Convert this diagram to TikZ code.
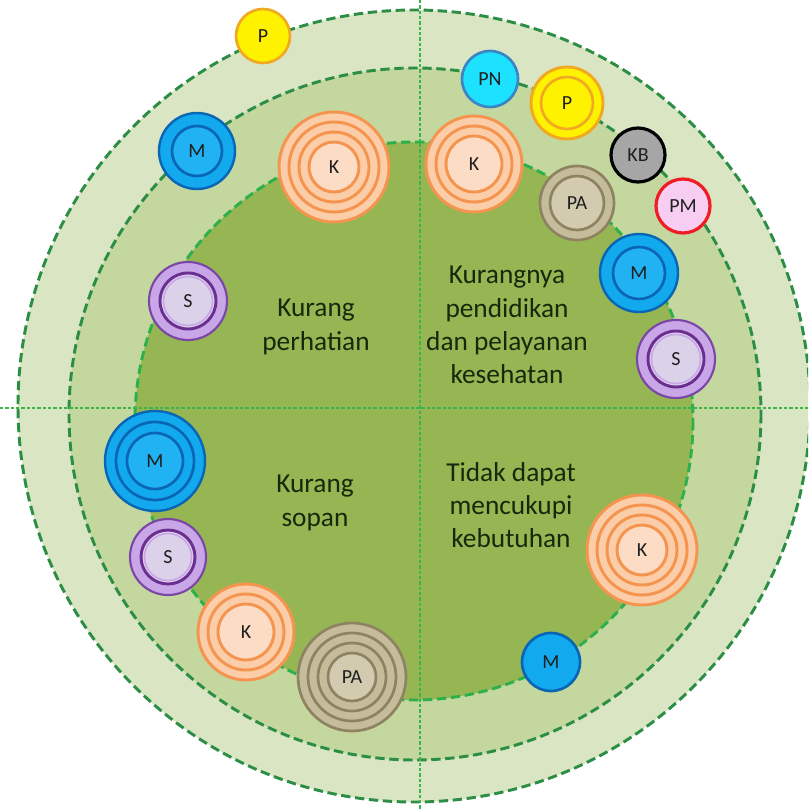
\documentclass[tikz,border=0pt]{standalone}
\usepackage{fontspec}
\setmainfont{Carlito}
\definecolor{outerfill}{HTML}{DAE5C3}
\definecolor{midfill}{HTML}{C4D79E}
\definecolor{innerfill}{HTML}{96B654}
\definecolor{dashdark}{HTML}{2C8E45}
\definecolor{dashbright}{HTML}{2DB04C}
\definecolor{crossgreen}{HTML}{3BB54A}
\definecolor{maintxt}{HTML}{18280A}
\definecolor{labtxt}{HTML}{1E1E1E}
\definecolor{mblue}{HTML}{12A9EE}
\definecolor{mbluein}{HTML}{20B2F2}
\definecolor{mring}{HTML}{0A66B4}
\definecolor{pncyan}{HTML}{1DE2FF}
\definecolor{pnborder}{HTML}{3C85C4}
\definecolor{pyellow}{HTML}{FFF200}
\definecolor{pborder}{HTML}{F2A922}
\definecolor{kbgrey}{HTML}{A6A6A6}
\definecolor{pmpink}{HTML}{F8CDF2}
\definecolor{pmred}{HTML}{EE1C24}
\definecolor{pafill}{HTML}{C5BC9C}
\definecolor{pain}{HTML}{D3CBAF}
\definecolor{paring}{HTML}{8E8360}
\definecolor{kfill}{HTML}{FBCDA8}
\definecolor{kin}{HTML}{FCDCC4}
\definecolor{kring}{HTML}{F5944F}
\definecolor{sfill}{HTML}{C8A6E8}
\definecolor{sin}{HTML}{DBD1E8}
\definecolor{sring}{HTML}{6B2F92}
\definecolor{sborder}{HTML}{7A47A6}
\tikzset{
  bigdash/.style={draw=dashdark, line width=2.2pt, dash pattern=on 7pt off 3.5pt},
  innerdash/.style={draw=dashbright, line width=2.2pt, dash pattern=on 7pt off 3.5pt},
  crossline/.style={draw=crossgreen, line width=1pt, dash pattern=on 2.5pt off 1.5pt},
  lab/.style={circle, inner sep=0pt, text=labtxt, font=\fontsize{15}{17}\selectfont},
  maintext/.style={align=center, text=maintxt, font=\fontsize{20.5}{25}\selectfont},
  kr/.style={draw=kring, line width=2.2pt},
  par/.style={draw=paring, line width=2pt},
  mr/.style={draw=mring, line width=2pt},
  sr/.style={draw=sring, line width=2.2pt},
}
\begin{document}
\begin{tikzpicture}[x=0.75pt,y=0.75pt,yscale=-1]
\useasboundingbox (0,0) rectangle (808,809);
\begin{scope}
\clip (0,0) rectangle (808,809);
% zones
\fill[outerfill] (414,406) circle[radius=396];
\fill[midfill] (415,414) circle[radius=346];
\fill[innerfill] (414,421) circle[radius=279];
\draw[bigdash] (414,406) circle[radius=396];
\draw[bigdash] (415,414) circle[radius=346];
\draw[innerdash] (414,421) circle[radius=279];
% cross lines
\coordinate (vt) at (420,0);
\coordinate (vb) at (420,809);
\coordinate (hl) at (0,408);
\coordinate (hr) at (808,408);
\draw[crossline] (vt) -- (vb);
\draw[crossline] (hl) -- (hr);
\end{scope}

% ===== top-left quadrant =====
% P single
\filldraw[fill=pyellow, draw=pborder, line width=2pt] (263,36) circle[radius=27];
\node[lab, minimum size=40pt] (tlP) at (263,36) {P};
% M double
\filldraw[fill=mblue, draw=mring, line width=1.8pt] (197,151) circle[radius=38];
\fill[mbluein] (197,151) circle[radius=25];
\draw[mr] (197,151) circle[radius=25];
\node[lab, minimum size=56pt] (tlM) at (197,151) {M};
% K four rings
\fill[kfill] (334,167) circle[radius=56];
\foreach \r in {55,45,35} \draw[kr] (334,167) circle[radius=\r];
\fill[kin] (334,167) circle[radius=25];
\draw[kr] (334,167) circle[radius=25];
\node[lab, minimum size=82pt] (tlK) at (334,167) {K};
% S double
\filldraw[fill=sfill, draw=sborder, line width=1.6pt] (188,301) circle[radius=39];
\fill[sin] (188,301) circle[radius=27];
\draw[sr] (188,301) circle[radius=28];
\draw[draw=sfill, line width=1.2pt] (188,301) circle[radius=24.5];
\node[lab, minimum size=58pt] (tlS) at (188,301) {S};
\node[maintext] (tltext) at (316,327) {Kurang\\perhatian};

% ===== top-right quadrant =====
% PN
\filldraw[fill=pncyan, draw=pnborder, line width=2pt] (490,79) circle[radius=28];
\node[lab, minimum size=42pt] (trPN) at (490,79) {PN};
% P double
\filldraw[fill=pyellow, draw=pborder, line width=2.2pt] (567,103) circle[radius=36];
\draw[draw=pborder, line width=2pt] (567,103) circle[radius=26];
\node[lab, minimum size=54pt] (trP) at (567,103) {P};
% KB
\filldraw[fill=kbgrey, draw=black, line width=2.4pt] (638,155) circle[radius=27];
\node[lab, minimum size=40pt] (trKB) at (638,155) {KB};
% PM
\filldraw[fill=pmpink, draw=pmred, line width=2.4pt] (683,206) circle[radius=27];
\node[lab, minimum size=40pt] (trPM) at (683,206) {PM};
% K three rings
\fill[kfill] (474,164) circle[radius=49];
\foreach \r in {48,38} \draw[kr] (474,164) circle[radius=\r];
\fill[kin] (474,164) circle[radius=28];
\draw[kr] (474,164) circle[radius=28];
\node[lab, minimum size=72pt] (trK) at (474,164) {K};
% PA double
\fill[pafill] (577,203) circle[radius=38];
\draw[par] (577,203) circle[radius=37];
\fill[pain] (577,203) circle[radius=27];
\draw[par] (577,203) circle[radius=27];
\node[lab, minimum size=56pt] (trPA) at (577,203) {PA};
% M double
\filldraw[fill=mblue, draw=mring, line width=1.8pt] (639,273) circle[radius=39];
\fill[mbluein] (639,273) circle[radius=26];
\draw[mr] (639,273) circle[radius=26];
\node[lab, minimum size=58pt] (trM) at (639,273) {M};
% S double
\filldraw[fill=sfill, draw=sborder, line width=1.6pt] (676,359) circle[radius=39];
\fill[sin] (676,359) circle[radius=27];
\draw[sr] (676,359) circle[radius=28];
\draw[draw=sfill, line width=1.2pt] (676,359) circle[radius=24.5];
\node[lab, minimum size=58pt] (trS) at (676,359) {S};
\node[maintext] (trtext) at (507,325) {Kurangnya\\pendidikan\\dan pelayanan\\kesehatan};

% ===== bottom-left quadrant =====
% M three rings
\filldraw[fill=mblue, draw=mring, line width=1.8pt] (155,461) circle[radius=50];
\draw[mr] (155,461) circle[radius=39];
\fill[mbluein] (155,461) circle[radius=28];
\draw[mr] (155,461) circle[radius=28];
\node[lab, minimum size=74pt] (blM) at (155,461) {M};
% S double
\filldraw[fill=sfill, draw=sborder, line width=1.6pt] (168,557) circle[radius=38];
\fill[sin] (168,557) circle[radius=26];
\draw[sr] (168,557) circle[radius=27];
\draw[draw=sfill, line width=1.2pt] (168,557) circle[radius=23.5];
\node[lab, minimum size=56pt] (blS) at (168,557) {S};
% K three rings
\fill[kfill] (246,632) circle[radius=49];
\foreach \r in {48,38} \draw[kr] (246,632) circle[radius=\r];
\fill[kin] (246,632) circle[radius=28];
\draw[kr] (246,632) circle[radius=28];
\node[lab, minimum size=72pt] (blK) at (246,632) {K};
% PA four rings
\fill[pafill] (352,677) circle[radius=55];
\foreach \r in {54,44,34} \draw[par] (352,677) circle[radius=\r];
\fill[pain] (352,677) circle[radius=24];
\draw[par] (352,677) circle[radius=24];
\node[lab, minimum size=80pt] (blPA) at (352,677) {PA};
\node[maintext] (bltext) at (315,503) {Kurang\\sopan};

% ===== bottom-right quadrant =====
% K four rings
\fill[kfill] (642,550) circle[radius=56];
\foreach \r in {55,45,35} \draw[kr] (642,550) circle[radius=\r];
\fill[kin] (642,550) circle[radius=25];
\draw[kr] (642,550) circle[radius=25];
\node[lab, minimum size=82pt] (brK) at (642,550) {K};
% M single
\filldraw[fill=mblue, draw=mring, line width=2pt] (551,662) circle[radius=29];
\node[lab, minimum size=42pt] (brM) at (551,662) {M};
\node[maintext] (brtext) at (511,505) {Tidak dapat\\mencukupi\\kebutuhan};
\end{tikzpicture}
\end{document}
